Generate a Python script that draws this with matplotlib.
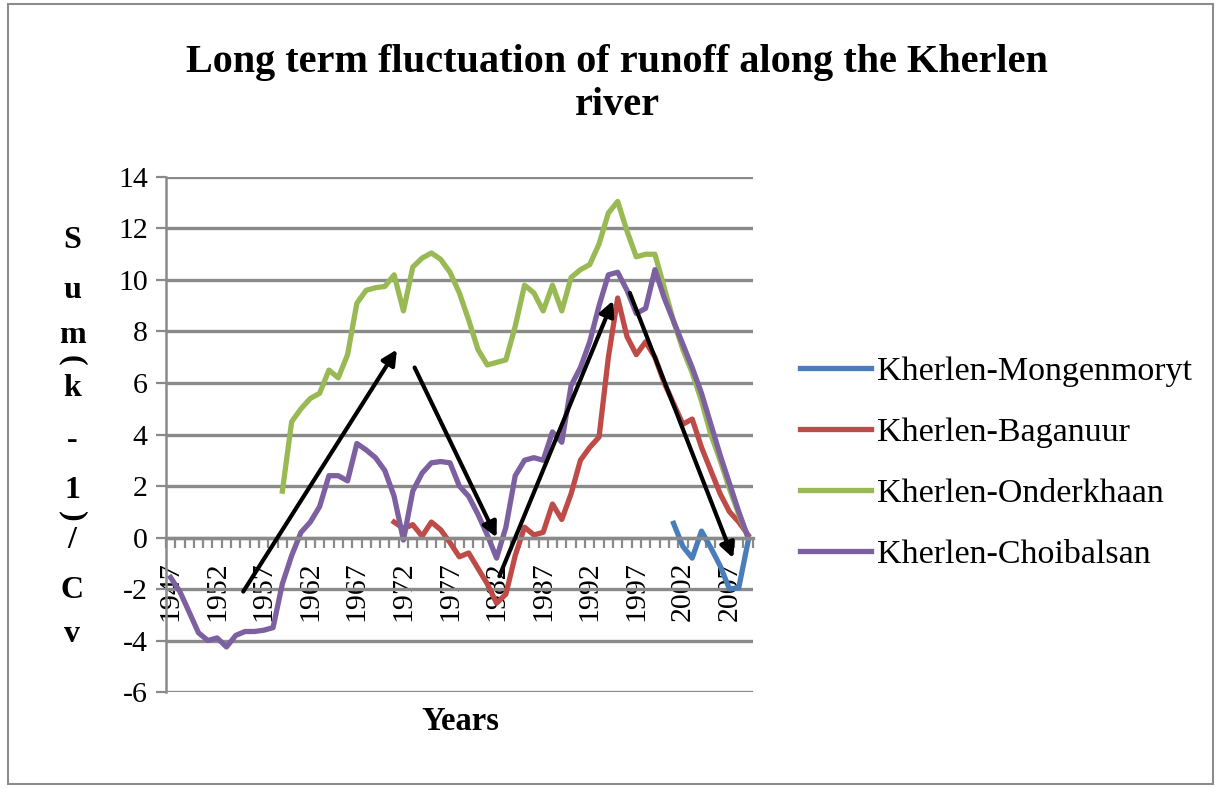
import numpy as np
import matplotlib.pyplot as plt
from matplotlib.patches import Rectangle

years = list(range(1947, 2010))

mongenmoryt_start = 2001
mongenmoryt = [0.55, -0.35, -0.8, 0.25, -0.4, -1.1, -2.0, -1.95, -0.15]

baganuur_start = 1971
baganuur = [0.6, 0.35, 0.5, 0.05, 0.6, 0.3, -0.2, -0.75, -0.6, -1.2,
            -1.8, -2.55, -2.2, -0.7, 0.4, 0.1, 0.2, 1.3, 0.7, 1.7,
            3.0, 3.5, 3.9, 7.0, 9.3, 7.8, 7.1, 7.6, 7.0, 6.0,
            5.2, 4.4, 4.6, 3.5, 2.6, 1.7, 1.0, 0.6, 0.1]

onderkhaan_start = 1959
onderkhaan = [1.8, 4.5, 5.0, 5.4, 5.6, 6.5, 6.2, 7.1, 9.1, 9.6,
              9.7, 9.75, 10.2, 8.8, 10.5, 10.85, 11.05, 10.8, 10.3, 9.5,
              8.45, 7.3, 6.7, 6.8, 6.9, 8.2, 9.8, 9.5, 8.8, 9.8,
              8.8, 10.1, 10.4, 10.6, 11.4, 12.6, 13.05, 11.9, 10.9, 11.0,
              11.0, 9.7, 8.4, 7.3, 6.4, 5.3, 4.0, 3.0, 1.9, 0.9, 0.0]

choibalsan_start = 1947
choibalsan = [-1.55, -2.1, -2.9, -3.7, -4.0, -3.9, -4.25, -3.8, -3.65, -3.65,
              -3.6, -3.5, -1.8, -0.7, 0.2, 0.6, 1.2, 2.4, 2.4, 2.2,
              3.65, 3.4, 3.1, 2.6, 1.6, -0.1, 1.8, 2.5, 2.9, 2.95,
              2.9, 2.0, 1.6, 0.9, 0.1, -0.8, 0.4, 2.4, 3.0, 3.1,
              3.0, 4.1, 3.7, 5.9, 6.6, 7.6, 9.0, 10.2, 10.3, 9.6,
              8.7, 8.9, 10.4, 9.3, 8.4, 7.5, 6.6, 5.6, 4.4, 3.2,
              2.1, 1.0, 0.0]

series = [
    ('Kherlen-Mongenmoryt', mongenmoryt_start, mongenmoryt, '#4A7EBB'),
    ('Kherlen-Baganuur', baganuur_start, baganuur, '#BE4B48'),
    ('Kherlen-Onderkhaan', onderkhaan_start, onderkhaan, '#98B954'),
    ('Kherlen-Choibalsan', choibalsan_start, choibalsan, '#7D60A0'),
]

# trend arrows drawn on the chart: (year, value) -> (year, value)
arrows = [
    ((1954.8, -2.1), (1971.3, 7.3)),
    ((1973.2, 6.6), (1982.0, 0.0)),
    ((1982.3, -1.5), (1994.5, 9.2)),
    ((1996.3, 9.5), (2007.4, -0.8)),
]

ylabel_chars = ['S', 'u', 'm', '(', 'k', '-', '1', ')', '/', 'C', 'v']
ylabel_rows = [241, 290, 336, 360, 388, 440, 490, 516, 540, 590, 635]

plt.rcParams['font.family'] = ['Liberation Serif', 'DejaVu Serif']
plt.rcParams['axes.unicode_minus'] = False
grid_col = '#8a8a8a'

fig = plt.figure(figsize=(12.2, 7.88), dpi=100)
ax = fig.add_axes([0.136, 0.1218, 0.481, 0.6536])

for name, start, vals, col in series:
    x = np.arange(len(vals)) + (start - years[0])
    ax.plot(x, vals, color=col, lw=3.8, label=name, solid_joinstyle='round')

for (x0, y0), (x1, y1) in arrows:
    ax.annotate('', xy=(x1 - years[0], y1), xytext=(x0 - years[0], y0),
                arrowprops=dict(arrowstyle='-|>', color='black', lw=3,
                                mutation_scale=22, shrinkA=0, shrinkB=0))

ax.set_xlim(-0.5, len(years) - 0.5)
ax.set_ylim(-6, 14)
ax.set_yticks(range(-6, 15, 2))
ax.yaxis.grid(True, color=grid_col, lw=2.4)
ax.set_axisbelow(True)

ax.spines['top'].set_visible(False)
ax.spines['right'].set_visible(False)
ax.spines['left'].set_color(grid_col)
ax.spines['left'].set_linewidth(1.8)
ax.spines['bottom'].set_position(('data', 0))
ax.spines['bottom'].set_color(grid_col)
ax.spines['bottom'].set_linewidth(2.4)

lab_idx = [i for i, y in enumerate(years) if (y - 1947) % 5 == 0]
ax.set_xticks(lab_idx)
ax.set_xticklabels([str(years[i]) for i in lab_idx], rotation=90)
ax.set_xticks(np.arange(len(years) + 1) - 0.5, minor=True)
ax.tick_params(axis='x', which='major', length=0, labelsize=21.5, pad=17)
ax.tick_params(axis='x', which='minor', length=7, width=1.6, color=grid_col)
ax.tick_params(axis='y', length=7, width=1.6, color=grid_col, labelsize=21.5, pad=6)
for t in ax.get_xticklabels():
    t.set_verticalalignment('top')

fig.text(617 / 1220, 1 - 84 / 788,
         'Long term fluctuation of runoff along the Kherlen\nriver',
         ha='center', va='center', fontsize=29, fontweight='bold', linespacing=1.2)

fig.text(460 / 1220, 1 - 721 / 788, 'Years', ha='center', va='center',
         fontsize=23.5, fontweight='bold')

for ch, row in zip(ylabel_chars, ylabel_rows):
    rot = -90 if ch in '()' else 0
    fig.text(72 / 1220, 1 - row / 788, ch, ha='center', va='center',
             fontsize=23, fontweight='bold', rotation=rot, rotation_mode='anchor')

ax.legend(loc='center left', bbox_to_anchor=(800 / 1220, 1 - 463 / 788),
          bbox_transform=fig.transFigure, frameon=False, fontsize=24.5,
          handlelength=2.1, handletextpad=0.15, labelspacing=0.88,
          borderpad=0, borderaxespad=0)

fig.patches.append(Rectangle((8 / 1220, 4 / 788), 1205 / 1220, 780 / 788,
                             transform=fig.transFigure, fill=False,
                             edgecolor='#8c8c8c', lw=1.5))

fig.savefig('out.png', dpi=100)
